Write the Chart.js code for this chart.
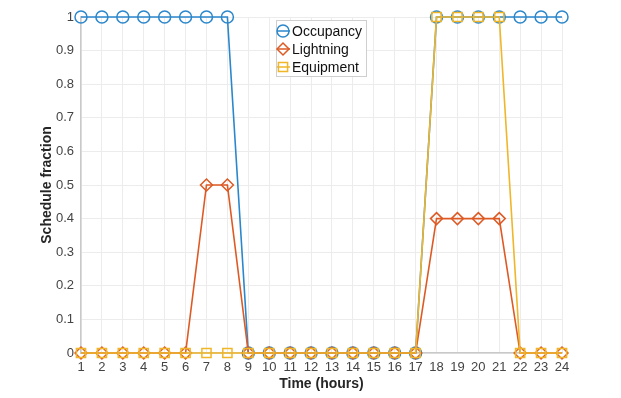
<!DOCTYPE html>
<html>
<head>
<meta charset="utf-8">
<script src="https://cdn.jsdelivr.net/npm/chart.js@4"></script>
<style>
  html, body { margin: 0; padding: 0; background: #fff; }
  #wrap { width: 621px; height: 398px; }
</style>
</head>
<body>
<div id="wrap"><canvas id="scheduleChart" width="621" height="398"></canvas></div>
<script>
var hours = [1, 2, 3, 4, 5, 6, 7, 8, 9, 10, 11, 12, 13, 14, 15, 16, 17, 18, 19, 20, 21, 22, 23, 24];
var occupancy = [1, 1, 1, 1, 1, 1, 1, 1, 0, 0, 0, 0, 0, 0, 0, 0, 0, 1, 1, 1, 1, 1, 1, 1];
var lightning = [0, 0, 0, 0, 0, 0, 0.5, 0.5, 0, 0, 0, 0, 0, 0, 0, 0, 0, 0.4, 0.4, 0.4, 0.4, 0, 0, 0];
var equipment = [0, 0, 0, 0, 0, 0, 0, 0, 0, 0, 0, 0, 0, 0, 0, 0, 0, 1, 1, 1, 1, 0, 0, 0];
var yTicks = [0, 0.1, 0.2, 0.3, 0.4, 0.5, 0.6, 0.7, 0.8, 0.9, 1];

function toPoints(values) {
  return hours.map(function (h, i) { return { x: h, y: values[i] }; });
}

var FONT = "'Liberation Sans', Arial, sans-serif";

// legend drawn inside the plot area, like MATLAB's
var insideLegend = {
  id: "insideLegend",
  afterDraw: function (chart) {
    var ctx = chart.ctx;
    var x0 = 276, y0 = 20, w = 90, h = 56, rowH = 18;
    ctx.save();
    ctx.fillStyle = "#fff";
    ctx.strokeStyle = "#cfcfcf";
    ctx.lineWidth = 1;
    ctx.fillRect(x0, y0, w, h);
    ctx.strokeRect(x0 + 0.5, y0 + 0.5, w, h);
    chart.data.datasets.forEach(function (ds, i) {
      var cy = y0 + 11 + i * rowH;
      ctx.strokeStyle = ds.borderColor;
      ctx.lineWidth = 1.5;
      ctx.beginPath();
      ctx.moveTo(x0 + 1, cy);
      ctx.lineTo(x0 + 14, cy);
      ctx.stroke();
      ctx.fillStyle = "rgba(0,0,0,0)";
      Chart.helpers.drawPoint(ctx, {
        pointStyle: ds.pointStyle,
        radius: ds.pointRadius,
        borderWidth: 1.5,
        rotation: 0
      }, x0 + 7, cy);
      ctx.fillStyle = "#111";
      ctx.font = "14px " + FONT;
      ctx.textBaseline = "middle";
      ctx.textAlign = "left";
      ctx.fillText(ds.label, x0 + 16, cy + 1);
    });
    ctx.restore();
  }
};

var ctx = document.getElementById("scheduleChart").getContext("2d");
var scheduleChart = new Chart(ctx, {
  type: "line",
  data: {
    datasets: [
      {
        label: "Occupancy",
        data: toPoints(occupancy),
        borderColor: "#2b87cc",
        pointBorderColor: "#2b87cc",
        pointBackgroundColor: "rgba(0,0,0,0)",
        pointStyle: "circle",
        pointRadius: 6,
        order: 3
      },
      {
        label: "Lightning",
        data: toPoints(lightning),
        borderColor: "#dd5a24",
        pointBorderColor: "#dd5a24",
        pointBackgroundColor: "rgba(0,0,0,0)",
        pointStyle: "rectRot",
        pointRadius: 6,
        order: 2
      },
      {
        label: "Equipment",
        data: toPoints(equipment),
        borderColor: "#efb62a",
        pointBorderColor: "#efb62a",
        pointBackgroundColor: "rgba(0,0,0,0)",
        pointStyle: "rect",
        pointRadius: 6.5,
        order: 1
      }
    ]
  },
  options: {
    responsive: false,
    animation: false,
    datasets: {
      line: {
        borderWidth: 1.6,
        pointBorderWidth: 1.5,
        tension: 0,
        clip: false
      }
    },
    layout: { padding: { left: 0, top: 17, right: 59, bottom: 0 } },
    plugins: {
      legend: { display: false },
      tooltip: { enabled: false }
    },
    scales: {
      x: {
        type: "linear",
        min: 1,
        max: 24,
        afterFit: function (s) { s.height = 45; },
        afterBuildTicks: function (s) {
          s.ticks = hours.map(function (h) { return { value: h }; });
        },
        ticks: {
          padding: 7,
          color: "#444",
          font: { family: FONT, size: 13 },
          maxRotation: 0,
          autoSkip: false
        },
        grid: { color: "#ececec", drawTicks: false },
        border: { color: "#c9c9c9", width: 1.5 },
        title: {
          display: true,
          text: "Time (hours)",
          color: "#262626",
          font: { family: FONT, size: 14, weight: "bold" },
          padding: { top: 0, bottom: 5 }
        }
      },
      y: {
        min: 0,
        max: 1,
        afterFit: function (s) { s.width = 81; },
        afterBuildTicks: function (s) {
          s.ticks = yTicks.map(function (v) { return { value: v }; });
        },
        ticks: {
          padding: 7,
          color: "#444",
          font: { family: FONT, size: 13 },
          callback: function (v) { return String(Math.round(v * 10) / 10); }
        },
        grid: { color: "#ececec", drawTicks: false },
        border: { color: "#c9c9c9", width: 1.5 },
        title: {
          display: true,
          text: "Schedule fraction",
          color: "#262626",
          font: { family: FONT, size: 14, weight: "bold" },
          padding: { top: 39, bottom: 0 }
        }
      }
    }
  },
  plugins: [insideLegend]
});
</script>
</body>
</html>
